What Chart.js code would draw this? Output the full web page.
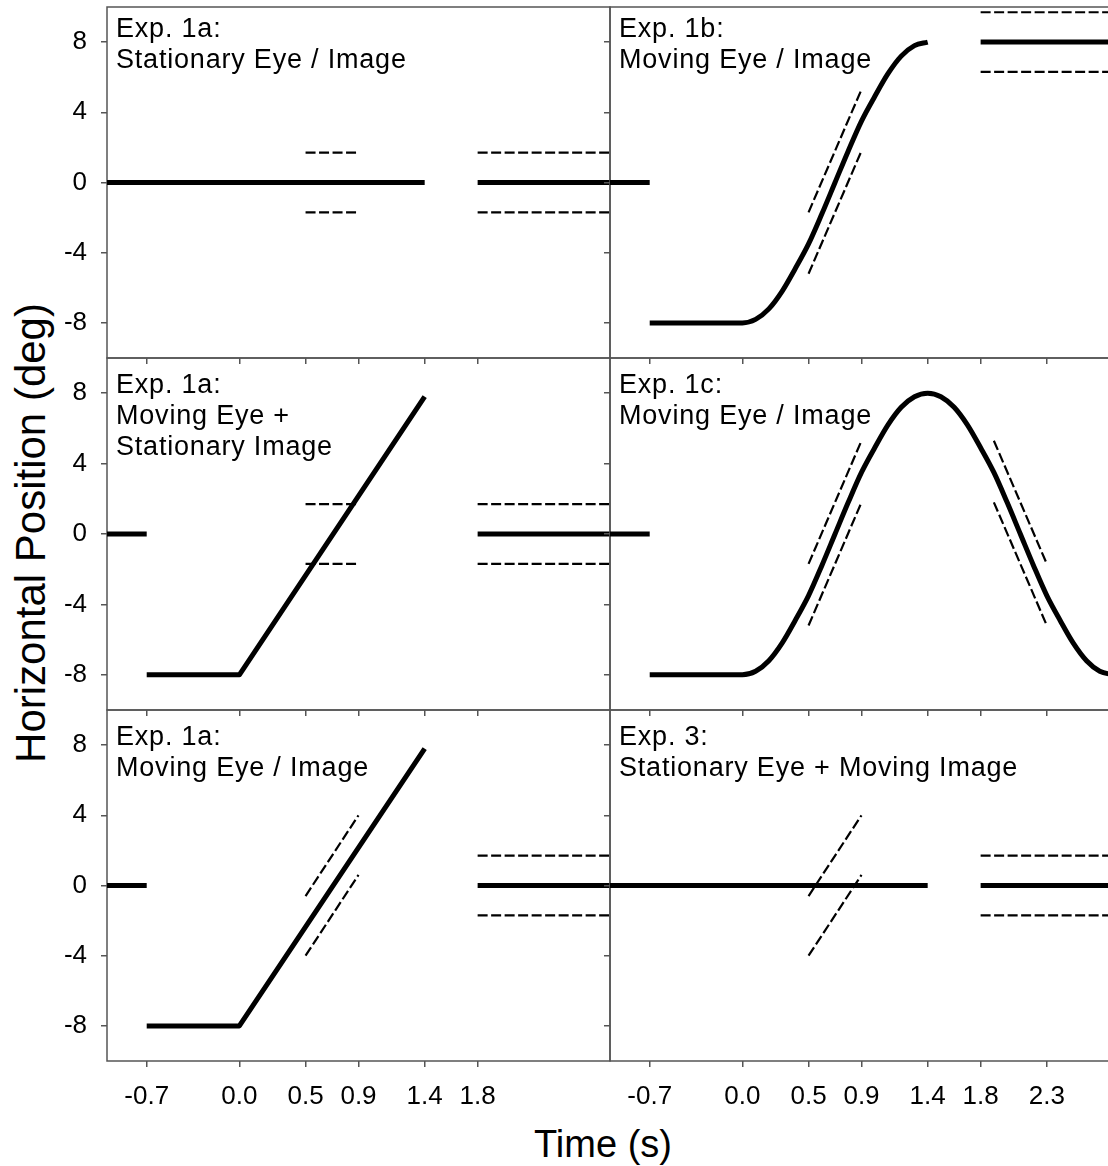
<!DOCTYPE html>
<html>
<head>
<meta charset="utf-8">
<script src="https://cdn.jsdelivr.net/npm/chart.js@4.4.1/dist/chart.umd.min.js"></script>
<style>
  html, body { margin: 0; padding: 0; background: #fff; }
  body { position: relative; width: 1108px; height: 1166px; overflow: hidden; }
  canvas { position: absolute; }
  .txt { position: absolute; font-family: "Liberation Sans", Arial, sans-serif; color: #000; white-space: nowrap; }
  .panelTitle { font-size: 27px; line-height: 31px; letter-spacing: 0.8px; }
  .axisTitle { line-height: 1; transform: translate(-50%, -50%); }
</style>
</head>
<body>
<div class="txt axisTitle" style="left:30.5px; top:533px; font-size:42px; transform: translate(-50%, -50%) rotate(-90deg);">Horizontal Position (deg)</div>
<div class="txt axisTitle" style="left:603px; top:1143.5px; font-size:38px;">Time (s)</div>

<script>
// tick labels
var timeTicksLeft = [-0.7, 0.0, 0.5, 0.9, 1.4, 1.8];
var timeTicksRight = [-0.7, 0.0, 0.5, 0.9, 1.4, 1.8, 2.3];
var posTicks = [-8, -4, 0, 4, 8];

// eye / image traces, [time, position]
var preFix = [[-1.0, 0], [-0.7, 0]];
var holdZero = [[-1.0, 0], [1.4, 0]];
var postZero = [[1.8, 0], [2.8, 0]];
var postZeroHi = [[1.8, 1.7], [2.8, 1.7]];
var postZeroLo = [[1.8, -1.7], [2.8, -1.7]];
var postEight = [[1.8, 8], [2.8, 8]];
var postEightHi = [[1.8, 9.7], [2.8, 9.7]];
var postEightLo = [[1.8, 6.3], [2.8, 6.3]];

var winFlatHi = [[0.5, 1.7], [0.9, 1.7]];
var winFlatLo = [[0.5, -1.7], [0.9, -1.7]];

var rampLinear = [[-0.7, -8], [0.0, -8], [1.4, 7.8]];
var winRampHi = [[0.5, -0.6], [0.9, 4.0]];
var winRampLo = [[0.5, -4.0], [0.9, 0.6]];

var smoothTime = [-0.7, 0.0, 0.1, 0.2, 0.3, 0.4, 0.5, 0.6, 0.7, 0.8, 0.9, 1.0, 1.1, 1.2, 1.3, 1.4];
var smoothRise = [-8, -8, -7.8, -7.2, -6.2, -4.9, -3.5, -1.8, 0, 1.8, 3.5, 4.9, 6.2, 7.2, 7.8, 8];
var backTime = [1.5, 1.6, 1.7, 1.8, 1.9, 2.0, 2.1, 2.2, 2.3, 2.4, 2.5, 2.6, 2.7, 2.8];
var backFall = [7.8, 7.2, 6.2, 4.9, 3.5, 1.8, 0, -1.8, -3.5, -4.9, -6.2, -7.2, -7.8, -8];
var winRiseHi = [[0.5, -1.7], [0.9, 5.3]];
var winRiseLo = [[0.5, -5.2], [0.9, 1.8]];
var winFallHi = [[1.9, 5.3], [2.3, -1.7]];
var winFallLo = [[1.9, 1.8], [2.3, -5.2]];

function zipPts(t, p) {
  var out = [];
  for (var i = 0; i < t.length; i++) out.push([t[i], p[i]]);
  return out;
}

var riseCurve = zipPts(smoothTime, smoothRise);
var riseFallCurve = zipPts(smoothTime.concat(backTime), smoothRise.concat(backFall));

var panels = [
  { col: 0, row: 0, title: 'Exp. 1a:<br>Stationary Eye / Image',
    solid: [holdZero, postZero], dashed: [winFlatHi, winFlatLo, postZeroHi, postZeroLo] },
  { col: 1, row: 0, title: 'Exp. 1b:<br>Moving Eye / Image',
    solid: [preFix, riseCurve, postEight], dashed: [winRiseHi, winRiseLo, postEightHi, postEightLo] },
  { col: 0, row: 1, title: 'Exp. 1a:<br>Moving Eye +<br>Stationary Image',
    solid: [preFix, rampLinear, postZero], dashed: [winFlatHi, winFlatLo, postZeroHi, postZeroLo] },
  { col: 1, row: 1, title: 'Exp. 1c:<br>Moving Eye / Image',
    solid: [preFix, riseFallCurve], dashed: [winRiseHi, winRiseLo, winFallHi, winFallLo] },
  { col: 0, row: 2, title: 'Exp. 1a:<br>Moving Eye / Image',
    solid: [preFix, rampLinear, postZero], dashed: [winRampHi, winRampLo, postZeroHi, postZeroLo] },
  { col: 1, row: 2, title: 'Exp. 3:<br>Stationary Eye + Moving Image',
    solid: [holdZero, postZero], dashed: [winRampHi, winRampLo, postZeroHi, postZeroLo] }
];

var areaLeft = [107, 610];
var areaW = 503;
var areaTop = [7, 358, 710];
var areaH = [351, 352, 351];
var titleTop = [13.4, 369.4, 721];
var PAD = 40;
var FONT = '"Liberation Sans", Arial, sans-serif';

var framePlugin = {
  id: 'frame',
  beforeDatasetsDraw: function (chart) {
    var a = chart.chartArea, ctx = chart.ctx;
    ctx.save();
    ctx.strokeStyle = '#555';
    ctx.lineWidth = 1.5;
    ctx.strokeRect(a.left, a.top, a.right - a.left, a.bottom - a.top);
    ctx.restore();
  }
};

function toXY(arr) {
  return arr.map(function (p) { return { x: p[0], y: p[1] }; });
}

function makePanel(p) {
  var yAxisW = p.col === 0 ? 107 : 10;
  var xAxisH = p.row === 2 ? 60 : 8;
  var cv = document.createElement('canvas');
  cv.width = yAxisW + areaW + PAD;
  cv.height = PAD + areaH[p.row] + xAxisH + PAD;
  cv.style.left = (areaLeft[p.col] - yAxisW) + 'px';
  cv.style.top = (areaTop[p.row] - PAD) + 'px';
  document.body.appendChild(cv);

  var tl = document.createElement('div');
  tl.className = 'txt panelTitle';
  tl.style.left = (areaLeft[p.col] + 9) + 'px';
  tl.style.top = titleTop[p.row] + 'px';
  tl.innerHTML = p.title;
  document.body.appendChild(tl);

  var datasets = [];
  p.dashed.forEach(function (d) {
    datasets.push({ data: toXY(d), borderColor: '#000', borderWidth: 2.2, borderDash: [10, 3.5],
      pointRadius: 0, fill: false, tension: 0 });
  });
  p.solid.forEach(function (d) {
    var smooth = d === riseCurve || d === riseFallCurve;
    datasets.push({ data: toXY(d), borderColor: '#000', borderWidth: 5, pointRadius: 0, fill: false,
      tension: smooth ? 0.4 : 0, cubicInterpolationMode: smooth ? 'monotone' : 'default',
      borderJoinStyle: 'round' });
  });

  var xTicks = p.col === 0 ? timeTicksLeft : timeTicksRight;

  new Chart(cv.getContext('2d'), {
    type: 'line',
    data: { datasets: datasets },
    plugins: [framePlugin],
    options: {
      responsive: false,
      animation: false,
      events: [],
      layout: { padding: { top: PAD, right: PAD, bottom: PAD, left: 0 } },
      plugins: { legend: { display: false }, tooltip: { enabled: false } },
      scales: {
        x: {
          type: 'linear', position: 'bottom', min: -1.0, max: 2.8,
          afterBuildTicks: function (s) { s.ticks = xTicks.map(function (v) { return { value: v }; }); },
          afterFit: function (s) { s.height = xAxisH; },
          border: { display: false },
          grid: { display: true, drawOnChartArea: false, drawTicks: true, tickLength: 6, color: '#555', lineWidth: 1.5 },
          ticks: {
            display: p.row === 2, padding: 14, color: '#000', maxRotation: 0, autoSkip: false,
            font: { family: FONT, size: 26 },
            callback: function (v) { return Number(v).toFixed(1); }
          }
        },
        y: {
          type: 'linear', position: 'left', min: -10, max: 10,
          afterBuildTicks: function (s) { s.ticks = posTicks.map(function (v) { return { value: v }; }); },
          afterFit: function (s) { s.width = yAxisW; },
          border: { display: false },
          grid: { display: true, drawOnChartArea: false, drawTicks: true, tickLength: 6, color: '#555', lineWidth: 1.5 },
          ticks: {
            display: p.col === 0, padding: 14, color: '#000', autoSkip: false,
            font: { family: FONT, size: 26 },
            callback: function (v) { return String(v); }
          }
        }
      }
    }
  });
}

panels.forEach(makePanel);
</script>
</body>
</html>
